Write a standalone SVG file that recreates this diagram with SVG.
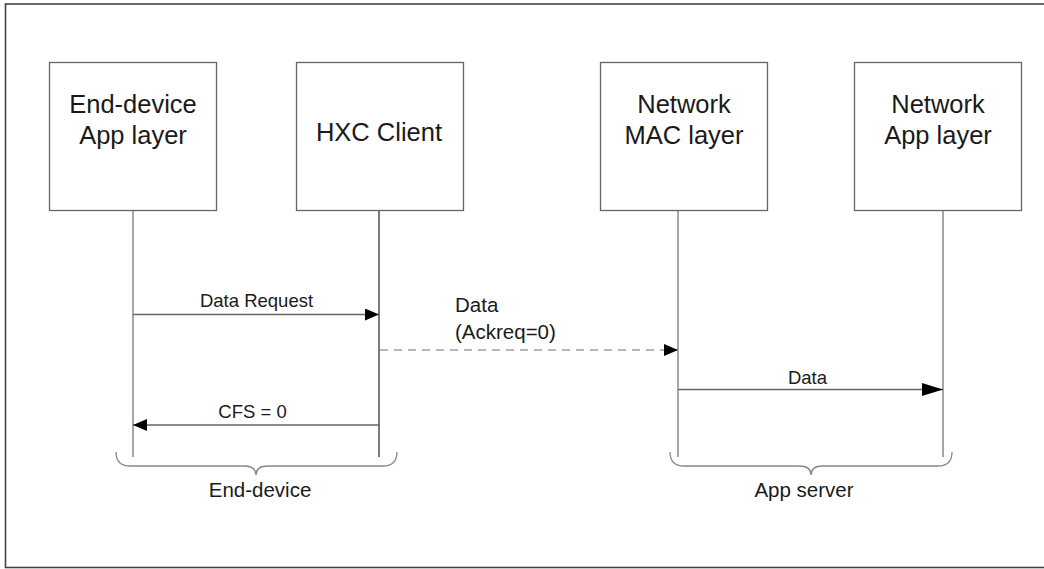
<svg xmlns="http://www.w3.org/2000/svg" width="1044" height="569" viewBox="0 0 1044 569">
  <style>
    .box { fill: #ffffff; stroke: #666666; stroke-width: 1.3; }
    .node-label { font-family: "Liberation Sans", Arial, sans-serif; font-size: 25.5px; fill: #1a1a1a; text-anchor: middle; }
    .life { stroke: #777777; stroke-width: 1.3; fill: none; }
    .msg { stroke: #666666; stroke-width: 1.3; fill: none; }
    .dash { stroke: #a0a0a0; stroke-width: 1.6; stroke-dasharray: 8 6; fill: none; }
    .msg-label { font-family: "Liberation Sans", Arial, sans-serif; font-size: 18.5px; fill: #1a1a1a; text-anchor: middle; }
    .big-label { font-family: "Liberation Sans", Arial, sans-serif; font-size: 20.5px; fill: #1a1a1a; }
    .brace { stroke: #888888; stroke-width: 1.3; fill: none; }
  </style>
  <defs>
    <marker id="arrow" viewBox="0 0 14 12" refX="14" refY="6" markerWidth="14" markerHeight="12" markerUnits="userSpaceOnUse" orient="auto">
      <path d="M0,0 L14,6 L0,12 Z" fill="#000000"/>
    </marker>
    <marker id="arrowLong" viewBox="0 0 21 13" refX="21" refY="6.5" markerWidth="21" markerHeight="13" markerUnits="userSpaceOnUse" orient="auto">
      <path d="M0,0 L21,6.5 L0,13 Z" fill="#000000"/>
    </marker>
  </defs>

  <rect width="1044" height="569" fill="#ffffff"/>
  <!-- outer frame -->
  <rect x="5.5" y="4" width="1045" height="563.5" fill="none" stroke="#444444" stroke-width="1.6"/>

  <!-- lifelines -->
  <g id="lifelines">
    <line class="life" x1="133" y1="210" x2="133" y2="457"/>
    <line class="life" x1="379" y1="210" x2="379" y2="457" style="stroke:#333333"/>
    <line class="life" x1="678" y1="210" x2="678" y2="457"/>
    <line class="life" x1="943" y1="210" x2="943" y2="457"/>
  </g>

  <g id="node-enddevice-app">
    <rect class="box" x="49.5" y="62.5" width="167" height="148"/>
    <text class="node-label" x="133" y="112.5">End-device</text>
    <text class="node-label" x="133" y="144">App layer</text>
  </g>
  <g id="node-hxc-client">
    <rect class="box" x="296.5" y="62.5" width="167" height="148"/>
    <text class="node-label" x="379" y="141">HXC Client</text>
  </g>
  <g id="node-network-mac">
    <rect class="box" x="600.5" y="62.5" width="167" height="148"/>
    <text class="node-label" x="684" y="112.5">Network</text>
    <text class="node-label" x="684" y="144">MAC layer</text>
  </g>
  <g id="node-network-app">
    <rect class="box" x="854.5" y="62.5" width="167" height="148"/>
    <text class="node-label" x="938" y="112.5">Network</text>
    <text class="node-label" x="938" y="144">App layer</text>
  </g>

  <!-- messages -->
  <g id="connectors">
    <line class="msg" x1="133" y1="314.5" x2="379" y2="314.5" marker-end="url(#arrow)"/>
    <text class="msg-label" x="256.5" y="307">Data Request</text>

    <line class="dash" x1="380" y1="350" x2="678" y2="350" marker-end="url(#arrow)"/>
    <text class="big-label" x="455" y="311.5">Data</text>
    <text class="big-label" x="455" y="339">(Ackreq=0)</text>

    <line class="msg" x1="678" y1="389.5" x2="943" y2="389.5" marker-end="url(#arrowLong)"/>
    <text class="msg-label" x="807.5" y="384">Data</text>

    <line class="msg" x1="379" y1="425" x2="133" y2="425" marker-end="url(#arrow)"/>
    <text class="msg-label" x="252.5" y="418">CFS = 0</text>
  </g>

  <!-- group braces -->
  <g id="group-enddevice">
    <path class="brace" d="M116,452 Q116,466 130,466 L244,466 Q256,466 256,475 Q256,466 268,466 L383,466 Q397,466 397,452"/>
    <text class="big-label" x="260" y="497" text-anchor="middle">End-device</text>
  </g>
  <g id="group-appserver">
    <path class="brace" d="M670,452 Q670,466 684,466 L799,466 Q811,466 811,475 Q811,466 823,466 L938,466 Q952,466 952,452"/>
    <text class="big-label" x="804" y="497" text-anchor="middle">App server</text>
  </g>
</svg>
